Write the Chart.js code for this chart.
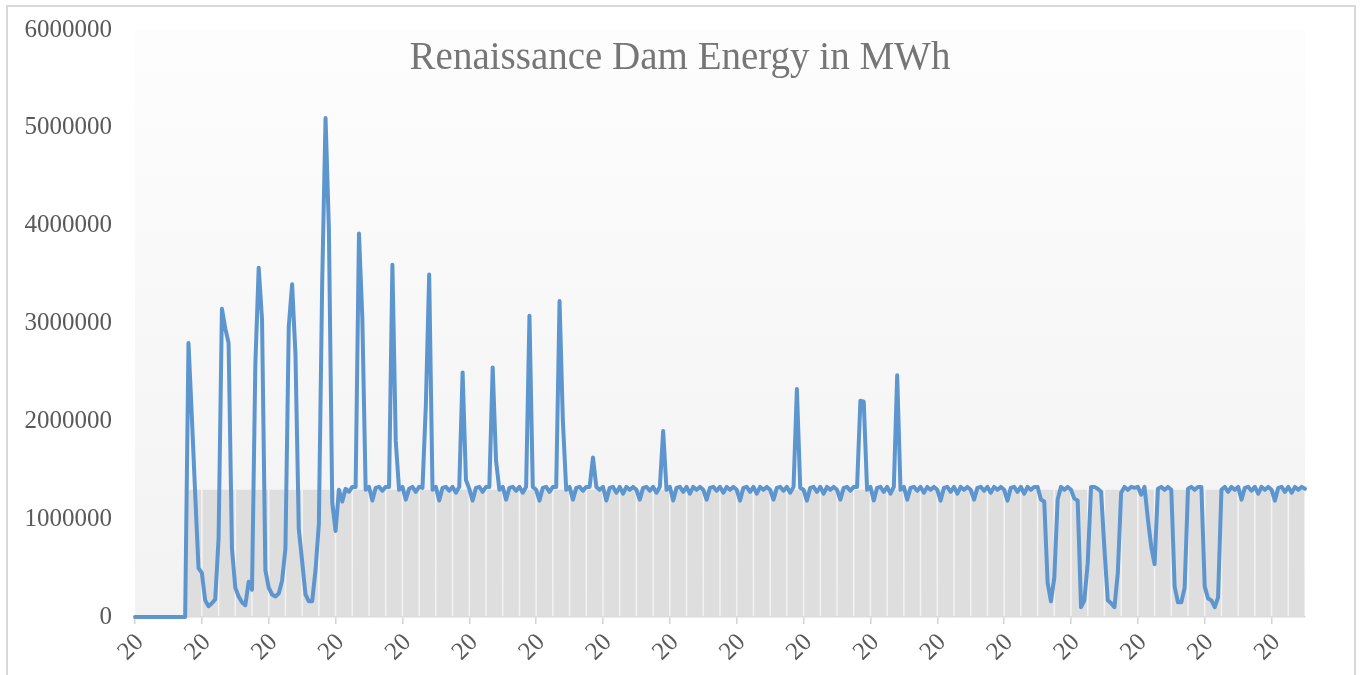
<!DOCTYPE html>
<html>
<head>
<meta charset="utf-8">
<title>Renaissance Dam Energy in MWh</title>
<script src="https://cdn.jsdelivr.net/npm/chart.js@4.4.1/dist/chart.umd.min.js"></script>
<style>
  html, body { margin: 0; padding: 0; background: #fff; overflow: hidden; }
  #frame { position: absolute; left: 6px; top: 5px; width: 1350px; height: 700px; box-sizing: border-box; border: 2px solid #d9d9d9; }
  #wrap { position: absolute; left: 0; top: 0; width: 1362px; height: 675px; }
</style>
</head>
<body>
<div id="frame"></div>
<div id="wrap"><canvas id="chart"></canvas></div>
<script>
const chartTitle = "Renaissance Dam Energy in MWh";

// energy per period, MWh
const energy = [
  0, 0, 0, 0, 0, 0, 0, 0, 0, 0,
  0, 0, 0, 0, 0, 0, 2800000, 2050000, 1260000, 500000,
  450000, 170000, 110000, 140000, 180000, 800000, 3150000, 2950000, 2800000, 700000,
  300000, 210000, 150000, 120000, 360000, 280000, 2580000, 3570000, 3040000, 480000,
  300000, 230000, 210000, 240000, 370000, 700000, 2970000, 3400000, 2690000, 900000,
  570000, 230000, 160000, 160000, 480000, 950000, 3430000, 5100000, 3970000, 1170000,
  880000, 1300000, 1180000, 1310000, 1280000, 1330000, 1330000, 3920000, 3060000, 1300000,
  1330000, 1190000, 1320000, 1330000, 1290000, 1330000, 1330000, 3600000, 1800000, 1300000,
  1330000, 1200000, 1310000, 1330000, 1280000, 1330000, 1320000, 2160000, 3500000, 1300000,
  1330000, 1190000, 1320000, 1330000, 1290000, 1330000, 1270000, 1330000, 2500000, 1400000,
  1310000, 1190000, 1320000, 1330000, 1280000, 1330000, 1330000, 2550000, 1600000, 1300000,
  1330000, 1200000, 1320000, 1330000, 1290000, 1330000, 1270000, 1330000, 3080000, 1330000,
  1300000, 1190000, 1320000, 1330000, 1280000, 1330000, 1330000, 3230000, 2000000, 1300000,
  1330000, 1200000, 1320000, 1330000, 1290000, 1330000, 1330000, 1630000, 1330000, 1300000,
  1330000, 1190000, 1320000, 1330000, 1270000, 1330000, 1260000, 1330000, 1300000, 1330000,
  1300000, 1200000, 1320000, 1330000, 1290000, 1330000, 1270000, 1330000, 1900000, 1300000,
  1330000, 1190000, 1320000, 1330000, 1280000, 1330000, 1260000, 1330000, 1300000, 1330000,
  1300000, 1200000, 1320000, 1330000, 1290000, 1330000, 1270000, 1330000, 1300000, 1330000,
  1300000, 1190000, 1320000, 1330000, 1280000, 1330000, 1260000, 1330000, 1300000, 1330000,
  1300000, 1200000, 1320000, 1330000, 1290000, 1330000, 1270000, 1330000, 2330000, 1320000,
  1300000, 1190000, 1320000, 1330000, 1280000, 1330000, 1260000, 1330000, 1300000, 1330000,
  1300000, 1200000, 1320000, 1330000, 1290000, 1330000, 1330000, 2210000, 2200000, 1300000,
  1330000, 1190000, 1320000, 1330000, 1280000, 1330000, 1260000, 1330000, 2470000, 1300000,
  1330000, 1200000, 1320000, 1330000, 1290000, 1330000, 1270000, 1330000, 1300000, 1330000,
  1300000, 1190000, 1320000, 1330000, 1280000, 1330000, 1260000, 1330000, 1300000, 1330000,
  1300000, 1200000, 1320000, 1330000, 1290000, 1330000, 1270000, 1330000, 1300000, 1330000,
  1300000, 1190000, 1320000, 1330000, 1280000, 1330000, 1260000, 1330000, 1300000, 1330000,
  1330000, 1200000, 1180000, 350000, 160000, 400000, 1200000, 1330000, 1300000, 1330000,
  1300000, 1210000, 1190000, 100000, 170000, 550000, 1330000, 1330000, 1310000, 1280000,
  700000, 170000, 140000, 100000, 450000, 1270000, 1330000, 1300000, 1330000, 1320000,
  1330000, 1250000, 1330000, 1000000, 720000, 540000, 1310000, 1330000, 1300000, 1330000,
  1300000, 310000, 150000, 150000, 300000, 1310000, 1330000, 1300000, 1330000, 1330000,
  310000, 190000, 170000, 100000, 200000, 1300000, 1330000, 1280000, 1330000, 1300000,
  1330000, 1200000, 1320000, 1330000, 1290000, 1330000, 1260000, 1330000, 1300000, 1330000,
  1300000, 1190000, 1320000, 1330000, 1280000, 1330000, 1270000, 1330000, 1300000, 1330000, 1310000
];

// grey band behind the line, one bar per 5 periods
const band = [
  null, null, null, 1300000, 1300000, 1300000, 1300000, 1300000, 1300000, 1300000,
  1300000, 1300000, 1300000, 1300000, 1300000, 1300000, 1300000, 1300000, 1300000, 1300000,
  1300000, 1300000, 1300000, 1300000, 1300000, 1300000, 1300000, 1300000, 1300000, 1300000,
  1300000, 1300000, 1300000, 1300000, 1300000, 1300000, 1300000, 1300000, 1300000, 1300000,
  1300000, 1300000, 1300000, 1300000, 1300000, 1300000, 1300000, 1300000, 1300000, 1300000,
  1300000, 1300000, 1300000, 1300000, 1300000, 1300000, 1300000, 1300000, 1300000, 1300000,
  1300000, 1300000, 1300000, 1300000, 1300000, 1300000, 1300000, 1300000, 1300000, 1300000
];

const tickLabels = ["20", "20", "20", "20", "20", "20", "20", "20", "20",
                    "20", "20", "20", "20", "20", "20", "20", "20", "20"];
const tickEvery = 20;

const yTicks = [0, 1000000, 2000000, 3000000, 4000000, 5000000, 6000000];

const periods = energy.map((_, i) => i);
const bandSlots = band.map((_, i) => i);

const panelBackground = {
    id: "panelBackground",
    beforeDraw(chart) {
        const { ctx, chartArea: a } = chart;
        const g = ctx.createLinearGradient(0, a.top, 0, a.bottom);
        g.addColorStop(0, "#fdfdfd");
        g.addColorStop(1, "#f2f2f2");
        ctx.save();
        ctx.fillStyle = g;
        ctx.fillRect(a.left, a.top, a.right - a.left, a.bottom - a.top);
        ctx.restore();
    }
};

const innerTitle = {
    id: "innerTitle",
    afterDatasetsDraw(chart) {
        const { ctx, chartArea: a } = chart;
        ctx.save();
        ctx.font = '39px "Liberation Serif"';
        ctx.fillStyle = "#767676";
        ctx.textAlign = "center";
        ctx.textBaseline = "alphabetic";
        ctx.fillText(chartTitle, chart.width / 2 - 1, a.top + 39);
        ctx.restore();
    }
};

const ctx = document.getElementById("chart").getContext("2d");

new Chart(ctx, {
    type: "line",
    data: {
        labels: periods,
        datasets: [{
            label: "Energy",
            data: energy,
            xAxisID: "x",
            borderColor: "#5d95ce",
            borderWidth: 4,
            pointRadius: 0,
            tension: 0,
            fill: false,
            borderJoinStyle: "round",
            borderCapStyle: "round",
            clip: 6,
            order: 1
        }, {
            type: "bar",
            label: "Band",
            data: band,
            xAxisID: "xBand",
            backgroundColor: "#dedede",
            borderWidth: 0,
            grouped: false,
            barPercentage: 1,
            categoryPercentage: 0.91,
            order: 2
        }]
    },
    options: {
        responsive: true,
        maintainAspectRatio: false,
        animation: false,
        layout: { padding: { top: 22, right: 57, bottom: 0, left: 0 } },
        plugins: {
            legend: { display: false },
            tooltip: { enabled: false },
            title: { display: false }
        },
        scales: {
            x: {
                type: "category",
                offset: false,
                afterFit: (scale) => { scale.height = 58; },
                grid: {
                    display: true,
                    drawOnChartArea: false,
                    drawTicks: true,
                    tickLength: 7,
                    color: "#d4d4d4",
                    lineWidth: 1.5
                },
                border: { display: true, color: "#d9d9d9", width: 1.5 },
                ticks: {
                    autoSkip: false,
                    maxRotation: 45,
                    minRotation: 45,
                    padding: 4,
                    labelOffset: 5,
                    color: "#595959",
                    font: { family: "Liberation Serif", size: 25 },
                    callback: (v, i) => i % tickEvery === 0 ? tickLabels[i / tickEvery] : null
                }
            },
            xBand: {
                type: "category",
                labels: bandSlots,
                offset: true,
                display: false,
                grid: { display: false }
            },
            y: {
                min: 0,
                max: 6000000,
                afterFit: (scale) => { scale.width = 135; },
                afterBuildTicks: (scale) => { scale.ticks = yTicks.map(v => ({ value: v })); },
                grid: {
                    display: true,
                    drawOnChartArea: false,
                    drawTicks: true,
                    tickLength: 8,
                    color: "rgba(0,0,0,0)"
                },
                border: { display: false },
                ticks: {
                    padding: 15,
                    color: "#595959",
                    font: { family: "Liberation Serif", size: 25 },
                    callback: (v) => String(v)
                }
            }
        }
    },
    plugins: [panelBackground, innerTitle]
});
</script>
</body>
</html>
